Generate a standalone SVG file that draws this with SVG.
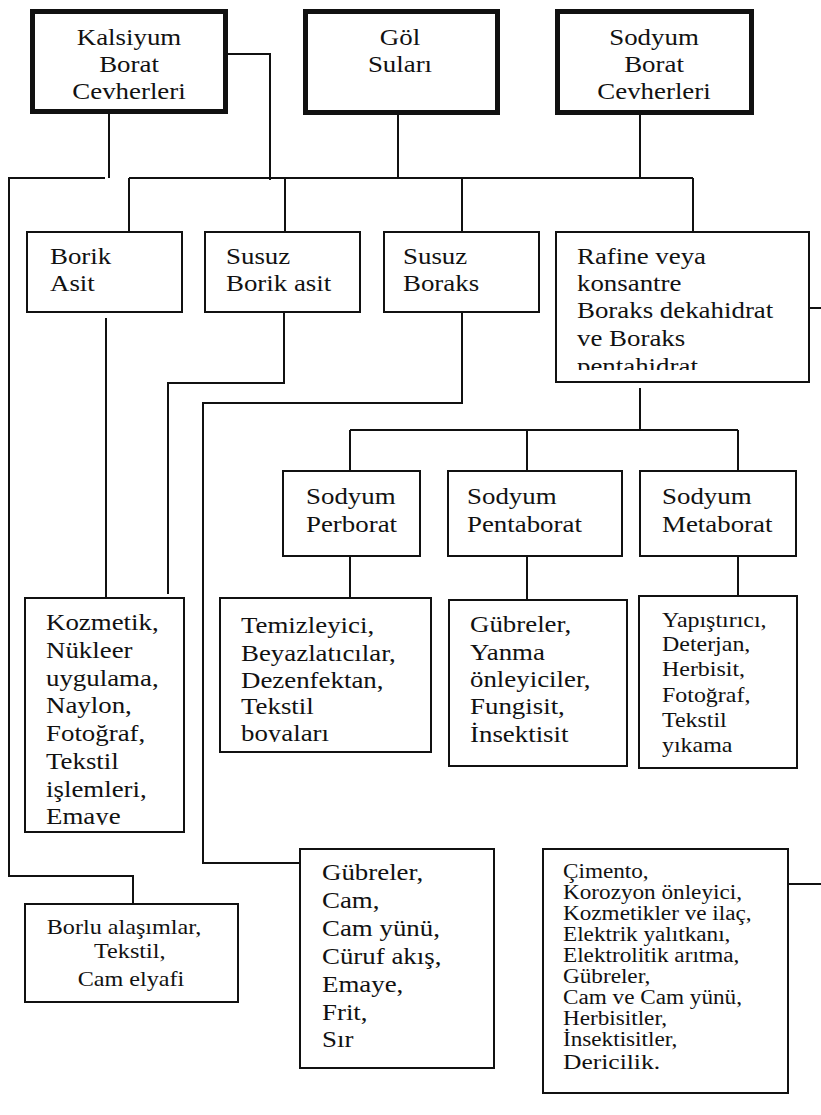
<svg xmlns="http://www.w3.org/2000/svg" width="821" height="1115" viewBox="0 0 821 1115">
<style>
.bg{fill:#fff}
.box{fill:#fff;stroke:#111;stroke-width:2}
.thick{fill:#fff;stroke:#111;stroke-width:5}
.ln{fill:none;stroke:#111;stroke-width:2}
.t{fill:#111;font-family:"Liberation Serif","Times New Roman",serif}
</style>
<defs>
<clipPath id="clipRafine" clipPathUnits="userSpaceOnUse"><rect x="556" y="232" width="253" height="138"/></clipPath>
<clipPath id="clipKoz" clipPathUnits="userSpaceOnUse"><rect x="25" y="598" width="159" height="227"/></clipPath>
<clipPath id="clipTem" clipPathUnits="userSpaceOnUse"><rect x="220" y="598" width="211" height="144"/></clipPath>
</defs>
<rect class="bg" x="0" y="0" width="821" height="1115"/>

<g id="connectors">
<path class="ln" d="M109 114 V178"/>
<path class="ln" d="M105 178 H9 V876 H133 V904"/>
<path class="ln" d="M228 54 H270 V180"/>
<path class="ln" d="M398 114 V178"/>
<path class="ln" d="M640 114 V178"/>
<path class="ln" d="M129 178 H693"/>
<path class="ln" d="M129 178 V232 M285 178 V232 M462 178 V232 M693 178 V232"/>
<path class="ln" d="M106 318 V598"/>
<path class="ln" d="M284 312 V383 H168 V594"/>
<path class="ln" d="M462 312 V403 H203 V863 H300"/>
<path class="ln" d="M640 388 V430 M350 430 H738 M350 430 V471 M527 430 V471 M738 430 V471"/>
<path class="ln" d="M350 556 V598 M527 556 V600 M738 556 V596"/>
<path class="ln" d="M809 308 H821"/>
<path class="ln" d="M786 884 H821"/>
</g>

<g id="kalsiyum">
<rect class="thick" x="32.5" y="11.5" width="193" height="100"/>
<text class="t" font-size="24" text-anchor="middle" transform="translate(129,45) scale(1.12,1)"><tspan x="0" y="0">Kalsiyum</tspan><tspan x="0" y="27">Borat</tspan><tspan x="0" y="54">Cevherleri</tspan></text>
</g>
<g id="gol">
<rect class="thick" x="305.5" y="11.5" width="192" height="101"/>
<text class="t" font-size="24" text-anchor="middle" transform="translate(400,45) scale(1.12,1)"><tspan x="0" y="0">Göl</tspan><tspan x="0" y="27">Suları</tspan></text>
</g>
<g id="sodyum-borat">
<rect class="thick" x="557.5" y="11.5" width="194" height="101"/>
<text class="t" font-size="24" text-anchor="middle" transform="translate(654,45) scale(1.12,1)"><tspan x="0" y="0">Sodyum</tspan><tspan x="0" y="27">Borat</tspan><tspan x="0" y="54">Cevherleri</tspan></text>
</g>

<g id="borik-asit">
<rect class="box" x="27" y="232" width="155" height="80"/>
<text class="t" font-size="24" transform="translate(50,264) scale(1.12,1)"><tspan x="0" y="0">Borik</tspan><tspan x="0" y="27">Asit</tspan></text>
</g>
<g id="susuz-borik-asit">
<rect class="box" x="205" y="232" width="155" height="80"/>
<text class="t" font-size="24" transform="translate(226,264) scale(1.12,1)"><tspan x="0" y="0">Susuz</tspan><tspan x="0" y="27">Borik asit</tspan></text>
</g>
<g id="susuz-boraks">
<rect class="box" x="384" y="232" width="155" height="80"/>
<text class="t" font-size="24" transform="translate(403,264) scale(1.12,1)"><tspan x="0" y="0">Susuz</tspan><tspan x="0" y="27">Boraks</tspan></text>
</g>
<g id="rafine">
<rect class="box" x="556" y="232" width="253" height="150"/>
<g clip-path="url(#clipRafine)">
<text class="t" font-size="24" transform="translate(577,264) scale(1.12,1)"><tspan x="0" y="0">Rafine veya</tspan><tspan x="0" y="27">konsantre</tspan><tspan x="0" y="54.5">Boraks dekahidrat</tspan><tspan x="0" y="82">ve Boraks</tspan><tspan x="0" y="110">pentahidrat</tspan></text>
</g>
</g>

<g id="sodyum-perborat">
<rect class="box" x="283" y="471" width="137" height="85"/>
<text class="t" font-size="24" transform="translate(306,504) scale(1.12,1)"><tspan x="0" y="0">Sodyum</tspan><tspan x="0" y="28">Perborat</tspan></text>
</g>
<g id="sodyum-pentaborat">
<rect class="box" x="448" y="471" width="174" height="85"/>
<text class="t" font-size="24" transform="translate(467,504) scale(1.12,1)"><tspan x="0" y="0">Sodyum</tspan><tspan x="0" y="28">Pentaborat</tspan></text>
</g>
<g id="sodyum-metaborat">
<rect class="box" x="640" y="471" width="156" height="85"/>
<text class="t" font-size="24" transform="translate(662,504) scale(1.12,1)"><tspan x="0" y="0">Sodyum</tspan><tspan x="0" y="28">Metaborat</tspan></text>
</g>

<g id="kozmetik">
<rect class="box" x="25" y="598" width="159" height="234"/>
<g clip-path="url(#clipKoz)">
<text class="t" font-size="24" transform="translate(46,630) scale(1.12,1)"><tspan x="0" y="0">Kozmetik,</tspan><tspan x="0" y="28">Nükleer</tspan><tspan x="0" y="56">uygulama,</tspan><tspan x="0" y="83">Naylon,</tspan><tspan x="0" y="111">Fotoğraf,</tspan><tspan x="0" y="139">Tekstil</tspan><tspan x="0" y="167">işlemleri,</tspan><tspan x="0" y="194">Emaye</tspan></text>
</g>
</g>
<g id="temizleyici">
<rect class="box" x="220" y="598" width="211" height="154"/>
<g clip-path="url(#clipTem)">
<text class="t" font-size="24" transform="translate(241,633) scale(1.12,1)"><tspan x="0" y="0">Temizleyici,</tspan><tspan x="0" y="28">Beyazlatıcılar,</tspan><tspan x="0" y="55">Dezenfektan,</tspan><tspan x="0" y="81">Tekstil</tspan><tspan x="0" y="108">boyaları</tspan></text>
</g>
</g>
<g id="gubreler-penta">
<rect class="box" x="449" y="600" width="178" height="166"/>
<text class="t" font-size="24" transform="translate(470,632) scale(1.12,1)"><tspan x="0" y="0">Gübreler,</tspan><tspan x="0" y="28">Yanma</tspan><tspan x="0" y="55">önleyiciler,</tspan><tspan x="0" y="82">Fungisit,</tspan><tspan x="0" y="110">İnsektisit</tspan></text>
</g>
<g id="yapistirici">
<rect class="box" x="639" y="596" width="158" height="172"/>
<text class="t" font-size="21" transform="translate(662,627) scale(1.14,1)"><tspan x="0" y="0">Yapıştırıcı,</tspan><tspan x="0" y="24">Deterjan,</tspan><tspan x="0" y="49">Herbisit,</tspan><tspan x="0" y="75">Fotoğraf,</tspan><tspan x="0" y="100">Tekstil</tspan><tspan x="0" y="125">yıkama</tspan></text>
</g>

<g id="borlu">
<rect class="box" x="25" y="904" width="213" height="98"/>
<text class="t" font-size="21" text-anchor="middle" transform="translate(124,934) scale(1.15,1)"><tspan x="0" y="0">Borlu alaşımlar,</tspan><tspan x="5" y="24">Tekstil,</tspan><tspan x="6" y="52">Cam elyafi</tspan></text>
</g>
<g id="gubreler-cam">
<rect class="box" x="300" y="849" width="194" height="219"/>
<text class="t" font-size="24" transform="translate(322,880) scale(1.12,1)"><tspan x="0" y="0">Gübreler,</tspan><tspan x="0" y="28">Cam,</tspan><tspan x="0" y="56">Cam yünü,</tspan><tspan x="0" y="84">Cüruf akış,</tspan><tspan x="0" y="112">Emaye,</tspan><tspan x="0" y="140">Frit,</tspan><tspan x="0" y="167">Sır</tspan></text>
</g>
<g id="cimento">
<rect class="box" x="543" y="849" width="245" height="244"/>
<text class="t" font-size="20" transform="translate(563,878) scale(1.16,1)"><tspan x="0" y="0">Çimento,</tspan><tspan x="0" y="21">Korozyon önleyici,</tspan><tspan x="0" y="42">Kozmetikler ve ilaç,</tspan><tspan x="0" y="63">Elektrik yalıtkanı,</tspan><tspan x="0" y="84">Elektrolitik arıtma,</tspan><tspan x="0" y="105">Gübreler,</tspan><tspan x="0" y="126">Cam ve Cam yünü,</tspan><tspan x="0" y="147">Herbisitler,</tspan><tspan x="0" y="168">İnsektisitler,</tspan><tspan x="0" y="191" font-size="22">Dericilik.</tspan></text>
</g>
</svg>
